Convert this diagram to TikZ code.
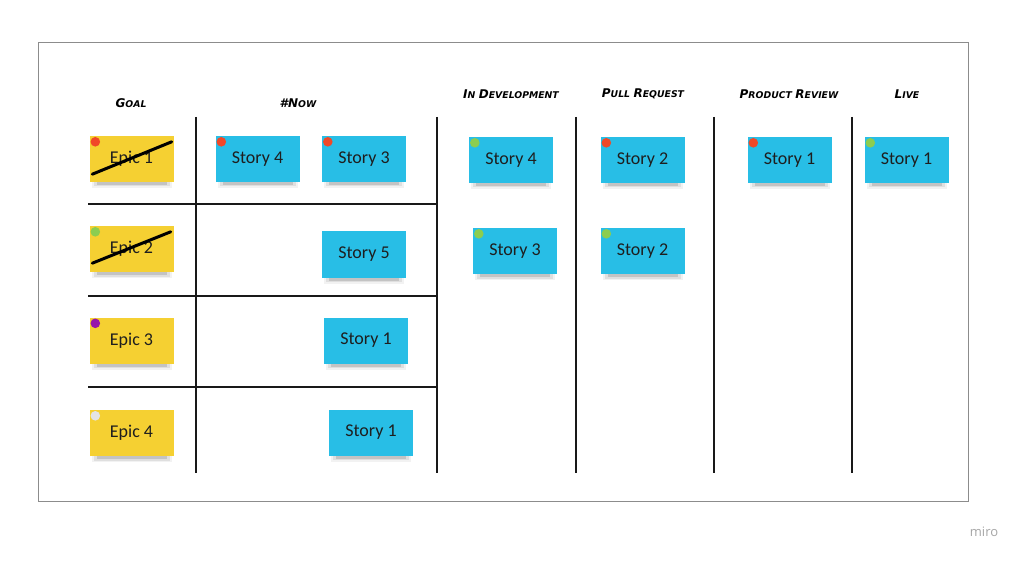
\documentclass[tikz,border=0pt]{standalone}
\usepackage{fontspec}
\setmainfont{Carlito}
\newfontfamily\hdfont{DejaVu Sans}
\newfontfamily\mirofont{Open Sans}
\definecolor{stickyY}{RGB}{245,208,50}
\definecolor{stickyB}{RGB}{40,190,230}
\definecolor{dotR}{RGB}{240,72,40}
\definecolor{dotG}{RGB}{140,205,80}
\definecolor{dotP}{RGB}{150,20,170}
\definecolor{dotW}{RGB}{228,228,228}
\definecolor{inkc}{RGB}{30,30,30}
\newcommand\hcap[2]{{\fontsize{12}{12}\selectfont #1}{\fontsize{9.3}{10}\selectfont #2}}
\newcommand\stickynote[5]{%
  \fill[black,opacity=.05] (#2)+(-40,18) rectangle +(40,29);
  \fill[black,opacity=.08] (#2)+(-38,19) rectangle +(38,27.5);
  \fill[black,opacity=.12] (#2)+(-35,20) rectangle +(35,26);
  \node[sticky,fill=#3] (#1) at (#2) {#5};
  \fill[#4] ([shift={(6,6)}]#1.north west) circle (4.8);
}
\tikzset{
  sticky/.style={rectangle, minimum width=84pt, minimum height=46pt, inner sep=0pt,
    font=\fontsize{18}{18}\selectfont, text=inkc},
  header/.style={font=\hdfont\bfseries\itshape, text=black, inner sep=0pt},
  gridline/.style={line width=1.3pt, black!90},
  strike/.style={line width=3pt, black, line cap=round},
}
\begin{document}
\begin{tikzpicture}[x=1pt,y=-1pt]
\useasboundingbox[fill=white] (0,0) rectangle (1024,561);
\draw[black!45, line width=1pt] (38,43) rectangle (968,501);

% headers
\node[header] (hgoal) at (131,103) {\hcap{G}{OAL}};
\node[header] (hnow) at (298,103) {\hcap{\#N}{OW}};
\node[header] (hdev) at (511,94) {\hcap{I}{N} \hcap{D}{EVELOPMENT}};
\node[header] (hpr) at (643,94) {\hcap{P}{ULL} \hcap{R}{EQUEST}};
\node[header] (hrev) at (789,94) {\hcap{P}{RODUCT} \hcap{R}{EVIEW}};
\node[header] (hlive) at (907,94) {\hcap{L}{IVE}};

% grid lines
\draw[gridline] (196,117) -- (196,473);
\draw[gridline] (437,117) -- (437,473);
\draw[gridline] (576,117) -- (576,473);
\draw[gridline] (714,117) -- (714,473);
\draw[gridline] (852,117) -- (852,473);
\draw[gridline] (88,204) -- (436,204);
\draw[gridline] (88,296) -- (436,296);
\draw[gridline] (88,387) -- (436,387);

% stickies
\stickynote{e1}{131.5,159}{stickyY}{dotR}{Epic 1}
\stickynote{e2}{131.5,249}{stickyY}{dotG}{Epic 2}
\stickynote{e3}{131.5,340.5}{stickyY}{dotP}{Epic 3}
\stickynote{e4}{131.5,433}{stickyY}{dotW}{Epic 4}
\stickynote{n4}{257.5,159}{stickyB}{dotR}{Story 4}
\stickynote{n3}{364,159}{stickyB}{dotR}{Story 3}
\stickynote{n5}{364,254.5}{stickyB}{stickyB}{Story 5}
\stickynote{n1a}{366,340.5}{stickyB}{stickyB}{Story 1}
\stickynote{n1b}{371,432.5}{stickyB}{stickyB}{Story 1}
\stickynote{d4}{511,160}{stickyB}{dotG}{Story 4}
\stickynote{d3}{515,251}{stickyB}{dotG}{Story 3}
\stickynote{p2a}{642.5,160}{stickyB}{dotR}{Story 2}
\stickynote{p2b}{642.5,251}{stickyB}{dotG}{Story 2}
\stickynote{r1}{789.5,160}{stickyB}{dotR}{Story 1}
\stickynote{l1}{906.5,160}{stickyB}{dotG}{Story 1}

% strike-throughs
\draw[strike] ([shift={(3,-8)}]e1.south west) -- ([shift={(-2,6)}]e1.north east);
\draw[strike] ([shift={(3,-9)}]e2.south west) -- ([shift={(-3,6)}]e2.north east);

\node[font=\mirofont\fontsize{13}{13}\selectfont, text=black!35] (miro) at (984,532) {miro};
\end{tikzpicture}
\end{document}
